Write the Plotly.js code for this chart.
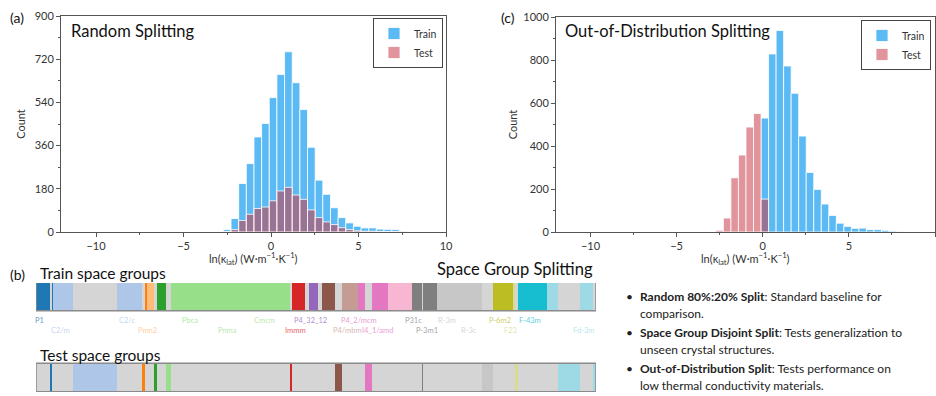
<!DOCTYPE html>
<html><head><meta charset="utf-8">
<script src="https://cdn.plot.ly/plotly-3.0.1.min.js"></script>
<style>html,body{margin:0;padding:0;background:#fff;}#chart{width:936px;height:396px;}</style>
</head><body><div id="chart"></div>
<script>
// ---------- Histogram data (bin grid shared by both panels) ----------
const binStart = -2.72;
const binWidth = 0.437;
const randomTrain = [10, 56, 202, 285, 396, 452, 560, 656, 751, 622, 510, 353, 216, 157, 101, 60, 38, 24, 17, 17, 12, 11, 10, 4];
const randomTest  = [2, 10, 48, 74, 98, 104, 130, 171, 186, 154, 136, 92, 60, 42, 31, 18, 10, 5, 3, 3, 2, 2, 2, 1];
const oodTrain = [0, 0, 0, 0, 0, 0, 530, 828, 937, 772, 645, 446, 277, 198, 130, 77, 41, 26, 17, 18, 11, 11, 8, 4, 2];
const oodTest  = [8, 65, 252, 358, 488, 551, 153];

// ---------- Space-group segments (ordered) ----------
const sgLabels = ['P1', '', '', 'C2/m', '', 'C2/c', '', '', 'Pmn2', '', '', '', 'Pbca', 'Pnma', 'Cmcm', '', 'Immm', '', 'P4_32_12', '', '', '', 'P4/mbm', 'P4_2/mcm', '', 'I4_1/amd', '', 'P31c', '', 'P-3m1', 'R-3m', 'R-3c', '', 'P-6m2', 'F23', '', 'F-43m', '', '', 'Fd-3m', ''];
const sgCounts = [135, 20, 18, 200, 440, 244, 28, 25, 70, 33, 87, 47, 443, 300, 450, 15, 135, 40, 93, 34, 133, 67, 166, 67, 67, 166, 234, 100, 16, 140, 247, 197, 110, 200, 23, 33, 284, 116, 217, 133, 27];
const sgColors = ['#1f77b4', '#1f77b4', '#1f77b4', '#aec7e8', '#aec7e8', '#aec7e8', '#ff7f0e', '#ff7f0e', '#ffbb78', '#2ca02c', '#2ca02c', '#98df8a', '#98df8a', '#98df8a', '#98df8a', '#d62728', '#d62728', '#ff9896', '#9467bd', '#c5b0d5', '#8c564b', '#8c564b', '#c49c94', '#e377c2', '#e377c2', '#e377c2', '#f7b6d2', '#7f7f7f', '#7f7f7f', '#7f7f7f', '#c7c7c7', '#c7c7c7', '#c7c7c7', '#bcbd22', '#dbdb8d', '#dbdb8d', '#17becf', '#9edae5', '#9edae5', '#9edae5', '#9edae5'];
const sgSplit = ['train', 'test', 'train', 'train', 'test', 'train', 'test', 'train', 'train', 'test', 'train', 'test', 'train', 'train', 'train', 'test', 'train', 'none', 'train', 'none', 'train', 'test', 'train', 'train', 'test', 'train', 'train', 'train', 'test', 'train', 'train', 'train', 'test', 'train', 'train', 'test', 'train', 'train', 'test', 'train', 'test'];

// ---------- Bullet text ----------
const bulletLines = [
  ['<b>Random 80%:20% Split</b>: Standard baseline for', 'comparison.'],
  ['<b>Space Group Disjoint Split</b>: Tests generalization to', 'unseen crystal structures.'],
  ['<b>Out-of-Distribution Split</b>: Tests performance on', 'low thermal conductivity materials.']
];

// ---------- helpers ----------
const W = 936, H = 396;
const px = v => v / W;
const py = v => 1 - v / H;
const FONT = 'Lato, "Noto Sans", sans-serif';
const TRAIN_C = '#5bb9f3';
const TEST_C = 'rgba(200,60,72,0.55)';
const GRAY = '#d5d5d5';
const centers = arr => arr.map((_, i) => binStart + (i + 0.5) * binWidth);
const fade = (hex, a) => {
  const n = parseInt(hex.slice(1), 16);
  return 'rgba(' + (n >> 16) + ',' + ((n >> 8) & 255) + ',' + (n & 255) + ',' + a + ')';
};

const starts = [];
sgCounts.reduce((acc, c, i) => { starts[i] = acc; return acc + c; }, 0);
const total = sgCounts.reduce((a, b) => a + b, 0);
const labIdx = sgLabels.map((l, i) => l ? i : -1).filter(i => i >= 0);

const traces = [
  {type:'bar', x:centers(randomTrain), y:randomTrain, width:binWidth, name:'Train',
   marker:{color:TRAIN_C, line:{color:'#fff', width:0.8}}, xaxis:'x', yaxis:'y', legend:'legend'},
  {type:'bar', x:centers(randomTest), y:randomTest, width:binWidth, name:'Test',
   marker:{color:TEST_C, line:{color:'#fff', width:0.8}}, xaxis:'x', yaxis:'y', legend:'legend'},
  {type:'bar', x:centers(oodTrain), y:oodTrain, width:binWidth, name:'Train',
   marker:{color:TRAIN_C, line:{color:'#fff', width:0.8}}, xaxis:'x2', yaxis:'y2', legend:'legend2'},
  {type:'bar', x:centers(oodTest), y:oodTest, width:binWidth, name:'Test',
   marker:{color:TEST_C, line:{color:'#fff', width:0.8}}, xaxis:'x2', yaxis:'y2', legend:'legend2'},
  {type:'bar', orientation:'h', x:sgCounts, base:starts, y:sgCounts.map(() => 'Train'), width:0.35,
   marker:{color:sgColors.map((c, i) => sgSplit[i] === 'train' ? c : GRAY), line:{width:0}},
   xaxis:'x3', yaxis:'y3', showlegend:false, hoverinfo:'skip'},
  {type:'bar', orientation:'h', x:sgCounts, base:starts, y:sgCounts.map(() => 'Test'), width:0.35,
   marker:{color:sgColors.map((c, i) => sgSplit[i] === 'test' ? c : GRAY), line:{width:0}},
   xaxis:'x3', yaxis:'y3', showlegend:false, hoverinfo:'skip'},
  {type:'bar', orientation:'h', x:[total, total], base:[0, 0], y:['Train', 'Test'], width:0.35,
   marker:{color:'rgba(0,0,0,0)', line:{color:'#8a8a8a', width:1.5}},
   xaxis:'x3', yaxis:'y3', showlegend:false, hoverinfo:'skip'}
];

const axBase = {
  showline:true, mirror:true, linecolor:'#555', linewidth:1, showgrid:false, zeroline:false,
  ticks:'outside', ticklen:4, tickcolor:'#555', tickfont:{size:11, color:'#333'},
  automargin:false
};
const XT = 'ln(κ<sub>lat</sub>) (W·m<sup>−1</sup>·K<sup>−1</sup>)';

const annotations = [
  {text:'(a)', x:px(8), y:py(17), font:{size:14, color:'#111'}},
  {text:'Random Splitting', x:px(69), y:py(31), font:{size:16.5, color:'#111'}},
  {text:'(c)', x:px(499), y:py(17), font:{size:14, color:'#111'}},
  {text:'Out-of-Distribution Splitting', x:px(563), y:py(31), font:{size:16.5, color:'#111'}},
  {text:XT, x:px(253.5), xanchor:'center', y:py(258), font:{size:11, color:'#333'}},
  {text:XT, x:px(745.5), xanchor:'center', y:py(258), font:{size:11, color:'#333'}},
  {text:'(b)', x:px(8), y:py(274), font:{size:14, color:'#111'}},
  {text:'Train space groups', x:px(38), y:py(273), font:{size:15.5, color:'#111'}},
  {text:'Test space groups', x:px(38), y:py(355), font:{size:15.5, color:'#111'}},
  {text:'Space Group Splitting', x:px(595), xanchor:'right', y:py(269), font:{size:16.5, color:'#111'}}
].map(a => Object.assign({xref:'paper', yref:'paper', xanchor:'left', yanchor:'middle', showarrow:false}, a));

const bulletY = [296, 332, 368];
bulletLines.forEach((lines, i) => {
  annotations.push({xref:'paper', yref:'paper', x:px(624), y:py(bulletY[i]), xanchor:'left', yanchor:'middle',
    text:'•', showarrow:false, font:{size:12, color:'#222'}});
  lines.forEach((t, k) => {
    annotations.push({xref:'paper', yref:'paper', x:px(638), y:py(bulletY[i] + 17 * k), xanchor:'left', yanchor:'middle',
      align:'left', text:t, showarrow:false, font:{size:12, color:'#222'}});
  });
});

// space-group names under the train bar, staggered in two rows so they do not collide
labIdx.forEach((i, k) => {
  annotations.push({xref:'x3', yref:'paper', x:starts[i] + sgCounts[i] / 2, y:py(k % 2 ? 330 : 320),
    xanchor:'center', yanchor:'middle', xshift:-3, text:sgLabels[i], showarrow:false,
    font:{size:7.5, color:fade(sgColors[i], 0.75)}});
});

const legendBase = {bgcolor:'#fff', bordercolor:'#444', borderwidth:1, font:{size:10.5, color:'#333'},
  xanchor:'right', yanchor:'top', tracegroupgap:0, itemwidth:30};

const layout = {
  width:W, height:H, margin:{l:0, r:0, t:0, b:0}, paper_bgcolor:'#fff', plot_bgcolor:'#fff',
  font:{family:FONT, color:'#222'}, barmode:'overlay', bargap:0,
  xaxis:Object.assign({}, axBase, {domain:[px(61), px(446)], range:[-12, 10], tick0:0, dtick:5, anchor:'y',
    minor:{ticks:'outside', ticklen:2, dtick:2.5, tickcolor:'#555'}}),
  yaxis:Object.assign({}, axBase, {domain:[py(232), py(16)], range:[0, 900], dtick:180, anchor:'x',
    minor:{ticks:'outside', ticklen:2, dtick:90, tickcolor:'#555'},
    title:{text:'Count', font:{size:11, color:'#333'}, standoff:6}}),
  xaxis2:Object.assign({}, axBase, {domain:[px(556), px(935)], range:[-12, 10], tick0:0, dtick:5, anchor:'y2',
    minor:{ticks:'outside', ticklen:2, dtick:2.5, tickcolor:'#555'}}),
  yaxis2:Object.assign({}, axBase, {domain:[py(232), py(17)], range:[0, 1000], dtick:200, anchor:'x2',
    minor:{ticks:'outside', ticklen:2, dtick:100, tickcolor:'#555'},
    title:{text:'Count', font:{size:11, color:'#333'}, standoff:3}}),
  xaxis3:{domain:[px(36), px(596)], range:[0, total], visible:false, anchor:'y3', fixedrange:true},
  yaxis3:{domain:[py(392), py(283)], type:'category', categoryorder:'array', categoryarray:['Test', 'Train'],
    range:[-0.179, 1.167], visible:false, anchor:'x3', fixedrange:true},
  legend:Object.assign({}, legendBase, {x:px(443), y:py(18)}),
  legend2:Object.assign({}, legendBase, {x:px(931), y:py(20)}),
  annotations:annotations
};

Plotly.newPlot('chart', traces, layout, {staticPlot:true, displayModeBar:false});
</script>
</body></html>
